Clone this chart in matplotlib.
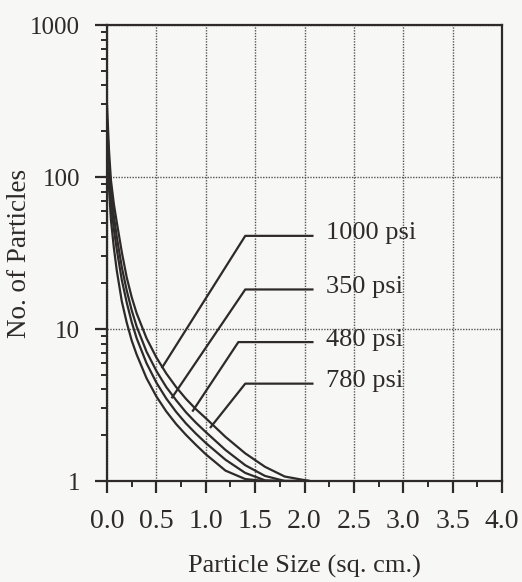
import numpy as np
import matplotlib
matplotlib.use('Agg')
from matplotlib import pyplot as plt
from matplotlib.ticker import LogLocator, NullFormatter, MultipleLocator, FixedLocator

# data
size = [0, 0.02, 0.04, 0.07, 0.1, 0.15, 0.2, 0.25, 0.3, 0.4, 0.5, 0.6,
        0.7, 0.8, 0.9, 1.0, 1.2, 1.4, 1.6, 1.8, 2.05]
psi_1000 = [300, 150, 95, 66, 50, 32, 21.8, 16.2, 12.7, 8.7, 6.5, 5.1,
            4.15, 3.47, 2.97, 2.59, 1.95, 1.52, 1.24, 1.07, 1.0]
psi_350 = [240, 125, 80, 55, 40, 25.5, 17.9, 13.3, 10.4, 7.1, 5.3, 4.15,
           3.4, 2.83, 2.42, 2.1, 1.6, 1.27, 1.08, 1.0, 1.0]
psi_480 = [190, 105, 66, 45, 33, 21, 14.9, 11.1, 8.7, 5.96, 4.44, 3.49,
           2.85, 2.39, 2.05, 1.78, 1.38, 1.13, 1.01, 1.0, 1.0]
psi_780 = [150, 85, 52, 34, 24, 15.2, 11.0, 8.4, 6.8, 4.75, 3.6, 2.87,
           2.37, 2.01, 1.73, 1.5, 1.17, 1.03, 1.0, 1.0, 1.0]

labels = ['1000 psi', '350 psi', '480 psi', '780 psi']
# leader lines: (tip x, tip y, elbow x, level y)
leaders = [(0.56, 5.6, 1.40, 41.0),
           (0.66, 3.55, 1.40, 18.2),
           (0.87, 2.9, 1.33, 8.2),
           (1.05, 2.26, 1.40, 4.37)]

ink = '#2e2a2a'
plt.rcParams['font.family'] = ['Liberation Serif', 'DejaVu Serif']

fig = plt.figure(figsize=(5.22, 5.82), dpi=100, facecolor='#f7f7f5')
ax = fig.add_axes([107/522, 1-481/582, 395/522, 456/582])
ax.set_facecolor('#f7f7f5')

for ys in (psi_1000, psi_350, psi_480, psi_780):
    ax.plot(size, ys, color=ink, lw=1.6, solid_capstyle='round')

for (tx, ty, ex, ly), lab in zip(leaders, labels):
    ax.plot([tx, ex, 2.08], [ty, ly, ly], color=ink, lw=1.6)
    ax.text(2.22, ly * 1.04, lab, ha='left', va='center', color=ink, fontsize=19)

ax.set_yscale('log')
ax.set_xlim(0, 4.0)
ax.set_ylim(1, 1000)

ax.xaxis.set_major_locator(MultipleLocator(0.5))
ax.xaxis.set_minor_locator(MultipleLocator(0.25))
ax.xaxis.set_major_formatter(matplotlib.ticker.FormatStrFormatter('%.1f'))
ax.yaxis.set_major_locator(FixedLocator([1, 10, 100, 1000]))
ax.yaxis.set_major_formatter(matplotlib.ticker.FuncFormatter(lambda v, p: '%d' % v))
ax.yaxis.set_minor_locator(LogLocator(base=10, subs=np.arange(2, 10)))
ax.yaxis.set_minor_formatter(NullFormatter())

ax.tick_params(which='major', direction='out', length=8.5, width=1.6, color=ink,
               labelcolor=ink)
ax.tick_params(axis='x', which='major', labelsize=20, pad=12)
ax.tick_params(axis='y', which='major', labelsize=18, pad=11)
ax.tick_params(which='minor', direction='out', length=4, width=1.4, color=ink)

for s in ax.spines.values():
    s.set_color(ink)
    s.set_linewidth(1.6)

ax.grid(True, which='major', linestyle=(0, (1, 1)), color='#555555', lw=1.0)

ax.set_xlabel('Particle Size (sq. cm.)', color=ink, fontsize=19)
ax.set_ylabel('No. of Particles', color=ink, fontsize=19.5)
ax.xaxis.set_label_coords(0.5, -0.163)
ax.yaxis.set_label_coords(-0.19, 0.5)

fig.savefig('out.png', dpi=100, facecolor=fig.get_facecolor())
